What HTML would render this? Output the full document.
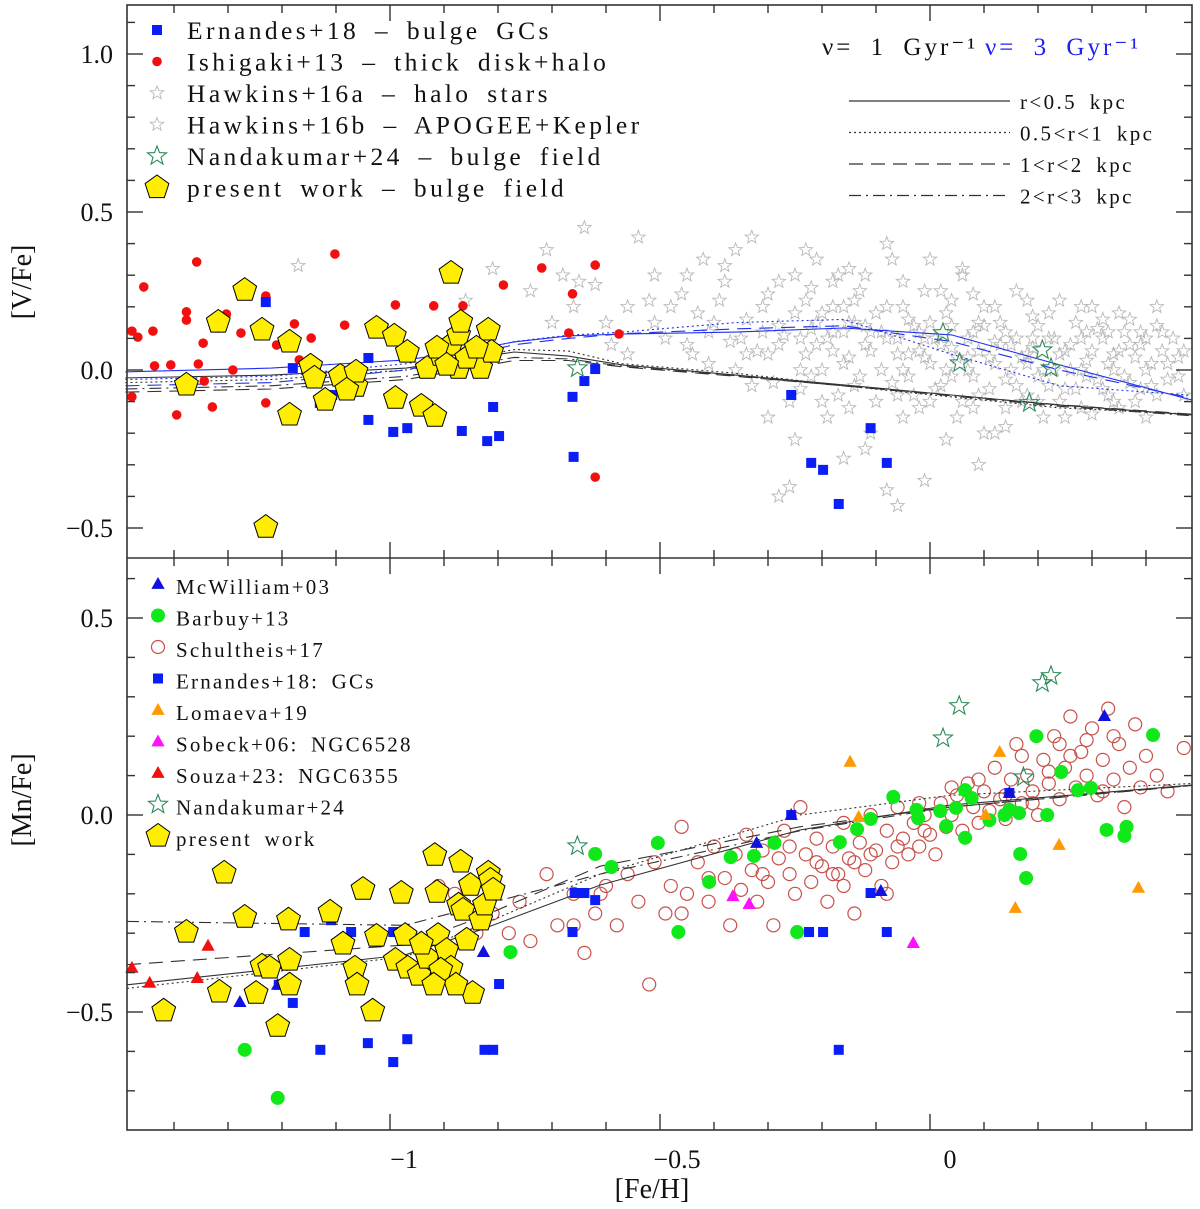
<!DOCTYPE html>
<html><head><meta charset="utf-8"><style>
html,body{margin:0;padding:0;background:#fff;}
svg{display:block;font-family:"Liberation Serif",serif;}
</style></head><body>
<svg id="chart" width="1200" height="1209" viewBox="0 0 1200 1209" xmlns="http://www.w3.org/2000/svg"></svg>
<script>
// ---------- data ----------
const xTicksMajor=[-1,-0.5,0];
const xTickLabels=["\u22121","\u22120.5","0"];
const vTicks=[1.0,0.5,0.0,-0.5];
const vTickLabels=["1.0","0.5","0.0","\u22120.5"];
const mnTicks=[0.5,0.0,-0.5];
const mnTickLabels=["0.5","0.0","\u22120.5"];

const ernV=[[-1.23,0.215],[-1.18,0.006],[-1.155,0],[-1.13,-0.104],[-1.107,-0.079],[-1.085,-0.006],[-1.04,0.038],[-1.04,-0.158],[-0.994,-0.196],[-0.968,-0.184],[-0.867,-0.193],[-0.82,-0.225],[-0.798,-0.209],[-0.809,-0.117],[-0.662,-0.085],[-0.66,-0.275],[-0.64,-0.035],[-0.62,0.003],[-0.257,-0.079],[-0.22,-0.294],[-0.198,-0.316],[-0.169,-0.424],[-0.11,-0.184],[-0.08,-0.294]];
const ishV=[[-1.478,0.123],[-1.467,0.104],[-1.456,0.263],[-1.439,0.123],[-1.436,0.013],[-1.406,0.016],[-1.395,-0.142],[-1.377,0.184],[-1.377,0.158],[-1.358,0.342],[-1.355,0.019],[-1.344,-0.035],[-1.346,0.085],[-1.329,-0.117],[-1.318,0.133],[-1.303,0.177],[-1.291,0],[-1.276,0.117],[-1.23,0.234],[-1.23,-0.104],[-1.21,0.079],[-1.177,0.146],[-1.168,0.032],[-1.146,0.101],[-1.133,-0.032],[-1.102,0.367],[-1.084,0.142],[-0.99,0.206],[-0.919,0.203],[-0.865,0.203],[-0.79,0.269],[-0.719,0.323],[-0.662,0.241],[-0.669,0.117],[-0.62,0.332],[-0.62,-0.339],[-0.576,0.114],[-1.478,-0.085]];
const hawV=[[-0.74,0.25],[-0.71,0.38],[-0.68,0.3],[-0.66,0.2],[-0.64,0.45],[-0.62,0.27],[-0.59,0.08],[-0.56,0.2],[-0.54,0.42],[-0.51,0.3],[-0.49,0.1],[-0.46,0.24],[-0.44,0.05],[-0.42,0.35],[-0.4,0.15],[-0.38,0.28],[-0.36,0.0],[-0.35,0.1],[-0.33,0.42],[-0.31,0.2],[-0.3,0.05],[-0.28,0.14],[-0.26,-0.1],[-0.25,0.3],[-0.24,0.1],[-0.23,0.22],[-0.22,-0.02],[-0.21,0.08],[-0.2,0.18],[-0.19,-0.15],[-0.18,0.12],[-0.17,0.3],[-0.16,0.02],[-0.15,0.15],[-0.14,-0.05],[-0.13,0.25],[-0.12,0.08],[-0.11,-0.2],[-0.1,0.18],[-0.09,0.0],[-0.08,0.1],[-0.07,0.35],[-0.06,-0.08],[-0.05,0.2],[-0.04,0.05],[-0.03,0.14],[-0.02,-0.12],[-0.01,0.25],[0.0,0.02],[0.01,0.1],[0.02,-0.05],[0.03,0.18],[0.04,0.07],[0.05,-0.15],[0.06,0.3],[0.07,0.0],[0.08,0.12],[0.09,-0.08],[0.1,0.2],[0.11,0.04],[0.12,-0.2],[0.13,0.15],[0.14,-0.03],[0.15,0.08],[0.16,0.25],[0.17,-0.1],[0.18,0.05],[0.19,0.17],[0.2,-0.02],[0.21,-0.15],[0.22,0.1],[0.23,0.0],[0.24,0.22],[0.25,-0.06],[0.26,0.08],[0.27,0.15],[0.28,-0.12],[0.29,0.03],[0.3,0.2],[0.31,-0.03],[0.32,0.1],[0.33,-0.08],[0.34,0.05],[0.35,0.18],[0.36,-0.02],[0.37,0.08],[0.38,-0.1],[0.39,0.12],[0.4,0.0],[0.41,-0.05],[0.42,0.2],[0.43,0.06],[0.44,-0.03],[0.46,0.04],[0.47,-0.08],[-0.26,-0.37],[-0.28,-0.4],[-0.08,-0.38],[-0.06,-0.43],[0.09,-0.3],[-0.01,-0.35],[-0.16,-0.28],[-0.21,0.35],[-0.08,0.4],[-0.36,0.38],[-0.81,0.32],[-1.17,0.33],[-0.86,0.22],[-0.16,0.2],[-0.11,0.12],[-0.01,0.1],[0.09,0.15],[0.19,0.1],[-0.31,0.12],[-0.41,0.12],[-0.21,0.15],[-0.06,0.05],[0.04,-0.02],[0.14,0.12],[0.24,0.05],[0.34,-0.1],[0.29,0.12],[0.39,0.08],[0.04,0.22],[-0.14,0.15],[-0.04,-0.02],[0.16,-0.05],[-0.24,0.0],[-0.34,0.05],[-0.51,0.15],[-0.56,0.05],[-0.02,0.06],[0.07,0.04],[0.18,0.02],[0.28,0.0],[-0.18,0.06],[-0.28,0.08],[0.12,0.09],[0.33,0.02],
[-0.45,0.08],[-0.43,0.18],[-0.41,0.02],[-0.39,0.22],[-0.37,0.09],[-0.34,0.16],[-0.32,0.06],[-0.3,0.24],[-0.29,-0.04],[-0.27,0.11],[-0.25,0.18],[-0.24,-0.06],[-0.23,0.05],[-0.22,0.13],[-0.2,0.0],[-0.19,0.1],[-0.18,0.2],[-0.17,-0.08],[-0.16,0.12],[-0.15,0.04],[-0.14,0.22],[-0.13,-0.02],[-0.12,0.14],[-0.11,0.06],[-0.1,-0.1],[-0.09,0.12],[-0.08,0.2],[-0.07,-0.04],[-0.06,0.1],[-0.05,0.0],[-0.04,0.16],[-0.03,-0.08],[-0.02,0.12],[-0.01,0.04],[0.0,0.15],[0.01,-0.06],[0.02,0.08],[0.03,0.0],[0.04,0.14],[0.05,0.04],[0.06,-0.1],[0.07,0.1],[0.08,-0.02],[0.09,0.06],[0.1,0.14],[0.11,-0.06],[0.12,0.02],[0.13,0.08],[0.14,-0.12],[0.15,0.0],[0.16,0.1],[0.17,0.04],[0.18,-0.08],[0.19,0.07],[0.2,0.14],[0.21,0.0],[0.22,-0.05],[0.23,0.1],[0.24,-0.1],[0.25,0.06],[0.26,0.0],[0.27,-0.06],[0.28,0.1],[0.29,-0.02],[0.3,0.06],[0.31,0.13],[0.32,-0.06],[0.33,0.12],[0.34,0.0],[0.35,0.06],[0.36,0.12],[0.37,-0.04],[0.38,0.04],[0.39,-0.06],[0.4,0.1],[0.41,0.02],[0.42,-0.08],[0.43,0.12],[0.44,0.02],[0.45,0.1],[0.46,-0.02],[0.47,0.06],[-0.33,-0.05],[-0.3,-0.15],[-0.25,-0.22],[-0.2,-0.1],[-0.15,-0.12],[-0.12,-0.25],[-0.05,-0.15],[0.0,-0.1],[0.03,-0.22],[0.08,-0.12],[0.1,-0.2],[0.14,-0.18],[0.2,-0.1],[0.25,-0.15],[0.3,-0.14],[0.35,-0.12],[0.4,-0.15],[-0.28,0.28],[-0.22,0.26],[-0.18,0.28],[-0.12,0.3],[-0.05,0.28],[0.02,0.25],[0.08,0.24],[0.12,0.2],[0.18,0.22],[0.22,0.18],[0.28,0.2],[0.32,0.16],[0.37,0.16],[0.42,0.14],[-0.48,0.2],[-0.52,0.22],[-0.6,0.15],[-0.65,0.28],[-0.7,0.15],[-0.45,0.3],[-0.38,0.33],[-0.23,0.38],[-0.15,0.32],[0.0,0.35],[0.06,0.32]];
const nanV=[[-0.653,0.006],[0.024,0.117],[0.055,0.022],[0.184,-0.104],[0.208,0.063],[0.224,0.006]];
const pwV=[[-1.377,-0.047],[-1.318,0.152],[-1.269,0.253],[-1.237,0.127],[-1.23,-0.497],[-1.186,0.089],[-1.186,-0.142],[-1.147,0.013],[-1.092,-0.019],[-1.063,-0.051],[-1.063,-0.006],[-1.025,0.133],[-0.992,0.108],[-0.968,0.057],[-0.99,-0.089],[-0.942,-0.114],[-0.917,-0.146],[-0.887,0.307],[-0.931,0.006],[-0.906,0.047],[-0.887,0.079],[-0.873,0.111],[-0.869,0.152],[-0.851,0.047],[-0.832,0.006],[-0.818,0.127],[-0.812,0.057],[-0.873,0.006],[-0.858,0.038],[-0.913,0.07],[-0.895,0.016],[-0.84,0.07],[-1.14,-0.025],[-1.08,-0.063],[-1.12,-0.095]];

const modelFeV=[-1.49,-1.22,-0.97,-0.87,-0.77,-0.67,-0.57,-0.36,-0.16,0.04,0.24,0.485];
const v1Solid=[-0.025,-0.016,0.006,0.032,0.057,0.044,0.016,-0.016,-0.047,-0.079,-0.111,-0.142];
const v1Dot=[-0.04,-0.03,0.0,0.03,0.065,0.06,0.02,-0.01,-0.05,-0.085,-0.12,-0.14];
const v1Dash=[-0.07,-0.06,-0.03,0.0,0.03,0.03,0.01,-0.02,-0.05,-0.08,-0.11,-0.14];
const v1DashDot=[-0.06,-0.05,-0.02,0.01,0.04,0.035,0.012,-0.018,-0.05,-0.082,-0.115,-0.145];
const v3Solid=[-0.006,0.006,0.032,0.057,0.089,0.108,0.114,0.12,0.133,0.111,0.016,-0.095];
const v3Dot=[-0.03,-0.02,0.02,0.05,0.09,0.11,0.12,0.15,0.16,0.05,-0.05,-0.08];
const v3Dash=[-0.05,-0.04,0.0,0.04,0.08,0.1,0.115,0.13,0.14,0.09,0.0,-0.09];

const mcwMn=[[-1.278,-0.475],[-1.208,-0.431],[-0.827,-0.348],[-0.321,-0.071],[-0.257,0],[-0.091,-0.193],[0.147,0.056],[0.323,0.251]];
const barMn=[[-1.269,-0.596],[-1.208,-0.718],[-0.777,-0.348],[-0.62,-0.099],[-0.59,-0.132],[-0.504,-0.071],[-0.466,-0.297],[-0.409,-0.17],[-0.369,-0.107],[-0.326,-0.104],[-0.288,-0.071],[-0.246,-0.297],[-0.167,-0.069],[-0.135,-0.036],[-0.11,-0.01],[-0.022,-0.008],[0.019,0.01],[0.03,-0.028],[0.048,0.018],[0.065,-0.058],[0.065,0.063],[0.077,0.043],[0.11,-0.013],[0.138,0],[0.147,0.013],[0.165,0.005],[0.167,-0.099],[0.178,-0.16],[0.197,0.2],[0.217,0],[0.243,0.109],[0.274,0.063],[0.298,0.069],[0.327,-0.038],[0.36,-0.053],[0.364,-0.03],[0.413,0.203],[-0.068,0.046],[-0.025,0.013]];
const schMn=[[-0.91,-0.18],[-0.88,-0.2],[-0.84,-0.3],[-0.81,-0.25],[-0.78,-0.3],[-0.76,-0.22],[-0.74,-0.32],[-0.71,-0.15],[-0.69,-0.28],[-0.66,-0.2],[-0.64,-0.35],[-0.62,-0.25],[-0.6,-0.18],[-0.58,-0.28],[-0.56,-0.15],[-0.54,-0.22],[-0.52,-0.43],[-0.51,-0.12],[-0.49,-0.25],[-0.48,-0.18],[-0.46,-0.03],[-0.45,-0.2],[-0.43,-0.12],[-0.41,-0.22],[-0.4,-0.08],[-0.38,-0.16],[-0.37,-0.28],[-0.36,-0.1],[-0.35,-0.19],[-0.34,-0.05],[-0.33,-0.14],[-0.32,-0.22],[-0.31,-0.09],[-0.3,-0.17],[-0.29,-0.28],[-0.28,-0.11],[-0.27,-0.04],[-0.26,-0.15],[-0.25,-0.2],[-0.24,0.02],[-0.23,-0.1],[-0.22,-0.17],[-0.21,-0.06],[-0.2,-0.13],[-0.19,-0.22],[-0.18,-0.08],[-0.17,-0.15],[-0.16,-0.02],[-0.15,-0.11],[-0.14,-0.25],[-0.13,-0.07],[-0.12,-0.14],[-0.11,0.0],[-0.1,-0.09],[-0.09,-0.18],[-0.08,-0.04],[-0.07,-0.12],[-0.06,0.02],[-0.05,-0.06],[-0.04,-0.1],[-0.03,-0.02],[-0.02,-0.08],[-0.01,0.0],[0.0,-0.05],[0.01,-0.1],[0.02,0.03],[0.03,-0.03],[0.04,0.0],[0.05,0.05],[0.06,-0.04],[0.07,0.08],[0.08,0.02],[0.09,-0.02],[0.1,0.06],[0.11,0.01],[0.12,0.12],[0.13,0.04],[0.14,-0.01],[0.15,0.09],[0.16,0.18],[0.17,0.03],[0.18,0.1],[0.19,0.06],[0.2,0.0],[0.21,0.14],[0.22,0.08],[0.23,0.2],[0.24,0.04],[0.25,0.12],[0.26,0.25],[0.27,0.07],[0.28,0.16],[0.29,0.1],[0.3,0.22],[0.31,0.05],[0.32,0.14],[0.33,0.27],[0.34,0.09],[0.35,0.18],[0.36,0.02],[0.37,0.12],[0.38,0.23],[0.39,0.07],[0.4,0.15],[0.42,0.1],[0.44,0.06],[0.47,0.17],[0.24,0.18],[0.26,0.15],[0.29,0.19],[0.22,0.11],[0.19,0.03],[0.32,0.06],[0.34,0.2],[-0.18,-0.15],[-0.21,-0.12],[-0.26,-0.08],[-0.31,-0.15],[-0.11,-0.1],[-0.06,-0.08],[-0.08,-0.2],[-0.01,-0.04],[0.09,0.09],[-0.41,-0.16],[-0.46,-0.25],[-0.61,-0.2],[-0.66,-0.28],[-0.86,-0.25],[-0.81,-0.18],[-0.16,-0.18],[-0.14,-0.12],[-0.02,0.03],[0.04,0.07],[0.14,0.05],[0.17,0.15]];
const ernMn=[[-1.158,-0.297],[-1.129,-0.596],[-1.109,-0.267],[-1.072,-0.297],[-1.041,-0.579],[-0.994,-0.627],[-0.994,-0.368],[-0.968,-0.569],[-0.994,-0.297],[-0.825,-0.596],[-0.809,-0.596],[-0.798,-0.429],[-0.662,-0.297],[-0.658,-0.198],[-0.64,-0.198],[-0.62,-0.216],[-0.257,0],[-0.224,-0.297],[-0.198,-0.297],[-0.169,-0.596],[-0.11,-0.198],[-0.08,-0.297],[0.147,0.056],[-1.206,-0.431],[-1.18,-0.477]];
const lomMn=[[-0.148,0.135],[0.129,0.16],[0.158,-0.236],[0.239,-0.076],[0.386,-0.185],[0.103,0],[-0.132,-0.005]];
const sobMn=[[-0.365,-0.206],[-0.335,-0.226],[-0.031,-0.325]];
const souMn=[[-1.478,-0.388],[-1.445,-0.426],[-1.357,-0.414],[-1.337,-0.332]];
const nanMn=[[-0.653,-0.079],[0.024,0.195],[0.054,0.277],[0.208,0.335],[0.224,0.353],[0.173,0.096]];
const pwMn=[[-1.307,-0.147],[-1.269,-0.259],[-1.377,-0.297],[-1.419,-0.497],[-1.316,-0.449],[-1.248,-0.452],[-1.237,-0.383],[-1.223,-0.388],[-1.208,-0.536],[-1.188,-0.266],[-1.186,-0.368],[-1.186,-0.431],[-1.111,-0.246],[-1.087,-0.327],[-1.065,-0.388],[-1.061,-0.431],[-1.05,-0.188],[-1.032,-0.497],[-1.025,-0.307],[-0.979,-0.198],[-0.972,-0.305],[-0.99,-0.368],[-0.967,-0.388],[-0.946,-0.406],[-0.931,-0.363],[-0.917,-0.102],[-0.913,-0.196],[-0.911,-0.305],[-0.895,-0.343],[-0.887,-0.388],[-0.873,-0.228],[-0.869,-0.119],[-0.865,-0.241],[-0.858,-0.317],[-0.851,-0.178],[-0.832,-0.266],[-0.825,-0.228],[-0.818,-0.147],[-0.814,-0.165],[-0.809,-0.19],[-0.847,-0.452],[-0.942,-0.327],[-0.906,-0.393],[-0.878,-0.431],[-0.919,-0.431]];

const modelFeMn=[-1.487,-0.972,-0.833,-0.611,-0.241,0.037,0.485];
const mnSolid=[-0.431,-0.355,-0.292,-0.178,-0.038,0.025,0.076];
const mnDot=[-0.44,-0.36,-0.28,-0.15,0.0,0.05,0.08];
const mnDash=[-0.38,-0.33,-0.26,-0.13,-0.03,0.02,0.075];
const mnDashDot=[-0.27,-0.28,-0.23,-0.15,-0.04,0.02,0.075];

// ---------- layout ----------
const L=127,R=1192,T=5,MID=558,B=1130;
const X=f=>930+540*f;
const YV=v=>370-316*v;
const YM=m=>815-394*m;
const NS="http://www.w3.org/2000/svg";
const svg=document.getElementById('chart');
function el(tag,attrs,parent){const e=document.createElementNS(NS,tag);for(const k in attrs)e.setAttribute(k,attrs[k]);(parent||svg).appendChild(e);return e;}
function grp(name){const g=document.createElementNS(NS,'g');svg.appendChild(g);return g;}

function starPts(cx,cy,r){let p=[];for(let i=0;i<10;i++){const a=-Math.PI/2+i*Math.PI/5;const rr=i%2?r*0.42:r;p.push((cx+rr*Math.cos(a)).toFixed(1)+','+(cy+rr*Math.sin(a)).toFixed(1));}return p.join(' ');}
function pentPts(cx,cy,r){let p=[];for(let i=0;i<5;i++){const a=-Math.PI/2+i*2*Math.PI/5;p.push((cx+r*Math.cos(a)).toFixed(1)+','+(cy+r*Math.sin(a)).toFixed(1));}return p.join(' ');}
function triPts(cx,cy,r){return [cx+','+(cy-r),(cx+r*0.95)+','+(cy+r*0.7),(cx-r*0.95)+','+(cy+r*0.7)].join(' ');}

function marker(kind,cx,cy,g){
  let e;
  if(kind==='sq'){e=el('rect',{x:cx-5,y:cy-5,width:10,height:10,fill:'#0a1ef5'},g);}
  else if(kind==='red'){e=el('circle',{cx:cx,cy:cy,r:4.8,fill:'#f01010'},g);}
  else if(kind==='green'){e=el('circle',{cx:cx,cy:cy,r:7,fill:'#10e81a'},g);}
  else if(kind==='sch'){e=el('circle',{cx:cx,cy:cy,r:6.5,fill:'none',stroke:'#c8504a','stroke-width':1.2},g);}
  else if(kind==='hstar'){e=el('polygon',{points:starPts(cx,cy,7),fill:'none',stroke:'#b8b8b8','stroke-width':0.9},g);}
  else if(kind==='nstar'){e=el('polygon',{points:starPts(cx,cy,10),fill:'none',stroke:'#2e8b57','stroke-width':1.1},g);}
  else if(kind==='pent'){e=el('polygon',{points:pentPts(cx,cy,12.5),fill:'#ffee00',stroke:'#000','stroke-width':1},g);}
  else {const col={mcw:'#1010e0',lom:'#ff9900',sob:'#ff10ff',sou:'#f01010'}[kind];e=el('polygon',{points:triPts(cx,cy,7),fill:col},g);}
  return e;
}
function scatter(data,kind,Y,name){
  const g=grp(name);
  data.forEach(d=>{const e=marker(kind,X(d[0]),Y(d[1]),g);
    
    });
}
function line(xs,ys,Y,color,dash,name){
  let d='';xs.forEach((x,i)=>{d+=(i?'L':'M')+X(x).toFixed(1)+','+Y(ys[i]).toFixed(1);});
  const p=el('path',{d:d,fill:'none',stroke:color,'stroke-width':1.1,'stroke-dasharray':dash});
  
  
}
const DOT='2,3',DASH='14,8',DD='12,5,2,5';

// top panel
scatter(hawV,'hstar',YV,'hawkins16-stars');
line(modelFeV,v1Solid,YV,'#333','', 'model-v1-r05');
line(modelFeV,v1Dot,YV,'#333',DOT,'model-v1-r1');
line(modelFeV,v1Dash,YV,'#333',DASH,'model-v1-r2');
line(modelFeV,v1DashDot,YV,'#333',DD,'model-v1-r3');
line(modelFeV,v3Solid,YV,'#2030f0','','model-v3-r05');
line(modelFeV,v3Dot,YV,'#2030f0',DOT,'model-v3-r1');
line(modelFeV,v3Dash,YV,'#2030f0',DASH,'model-v3-r2');
scatter(ishV,'red',YV,'ishigaki13-points');
scatter(ernV,'sq',YV,'ernandes18-points-v');
scatter(nanV,'nstar',YV,'nandakumar24-points-v');
scatter(pwV,'pent',YV,'present-work-points-v');

// bottom panel
scatter(schMn,'sch',YM,'schultheis17-points');
line(modelFeMn,mnSolid,YM,'#333','','model-mn-r05');
line(modelFeMn,mnDot,YM,'#333',DOT,'model-mn-r1');
line(modelFeMn,mnDash,YM,'#333',DASH,'model-mn-r2');
line(modelFeMn,mnDashDot,YM,'#333',DD,'model-mn-r3');
scatter(barMn,'green',YM,'barbuy13-points');
scatter(ernMn,'sq',YM,'ernandes18-points-mn');
scatter(mcwMn,'mcw',YM,'mcwilliam03-points');
scatter(lomMn,'lom',YM,'lomaeva19-points');
scatter(sobMn,'sob',YM,'sobeck06-points');
scatter(souMn,'sou',YM,'souza23-points');
scatter(nanMn,'nstar',YM,'nandakumar24-points-mn');
scatter(pwMn,'pent',YM,'present-work-points-mn');

// frames and ticks
const ax=grp('axes');
el('rect',{x:L,y:T,width:R-L,height:B-T,fill:'none',stroke:'#333','stroke-width':1.6},ax);
el('line',{x1:L,y1:MID,x2:R,y2:MID,stroke:'#333','stroke-width':1.6},ax);
function tk(x1,y1,x2,y2){el('line',{x1:x1,y1:y1,x2:x2,y2:y2,stroke:'#333','stroke-width':1.4},ax);}
for(let i=-15;i<=4;i++){const f=i/10,x=X(f);if(x<L||x>R)continue;const maj=(i%5===0);const l=maj?16:8;
  [T,MID].forEach(y=>tk(x,y,x,y+l));[MID,B].forEach(y=>tk(x,y,x,y-l));}
for(let i=-5;i<=11;i++){const v=i/10,y=YV(v);if(y<T||y>MID)continue;const l=(i%5===0)?16:8;tk(L,y,L+l,y);tk(R,y,R-l,y);}
for(let i=-8;i<=6;i++){const m=i/10,y=YM(m);if(y<=MID||y>B)continue;const l=(i%5===0)?16:8;tk(L,y,L+l,y);tk(R,y,R-l,y);}

function txt(x,y,s,attrs,name){const t=el('text',Object.assign({x:x,y:y},attrs));t.textContent=s;return t;}
const xLabOff=[14,17,20];
xTicksMajor.forEach((f,i)=>txt(X(f)+xLabOff[i],1168,xTickLabels[i],{'font-size':26,'text-anchor':'middle',fill:'#111'},'x-tick-label'));
vTicks.forEach((v,i)=>txt(113,YV(v)+9,vTickLabels[i],{'font-size':26,'text-anchor':'end',fill:'#111'},'v-tick-label'));
mnTicks.forEach((m,i)=>txt(113,YM(m)+9,mnTickLabels[i],{'font-size':26,'text-anchor':'end',fill:'#111'},'mn-tick-label'));
txt(652,1198,'[Fe/H]',{'font-size':28,'text-anchor':'middle',fill:'#111'},'x-axis-title');
txt(0,0,'[V/Fe]',{'font-size':28,'text-anchor':'middle',fill:'#111',transform:'translate(31,282) rotate(-90)'},'v-axis-title');
txt(0,0,'[Mn/Fe]',{'font-size':28,'text-anchor':'middle',fill:'#111',transform:'translate(31,800) rotate(-90)'},'mn-axis-title');

// top legend
const lt=grp('legend-top');
const topLeg=[['sq','Ernandes+18 \u2013 bulge GCs'],['red','Ishigaki+13 \u2013 thick disk+halo'],['hstar','Hawkins+16a \u2013 halo stars'],['hstar','Hawkins+16b \u2013 APOGEE+Kepler'],['nstar','Nandakumar+24 \u2013 bulge field'],['pent','present work \u2013 bulge field']];
topLeg.forEach((r,i)=>{const y=30+i*31.5;const m=marker(r[0],157,y,lt);
  
  
  txt(187,y+9,r[1],{'font-size':25.5,fill:'#111','letter-spacing':'3.4','word-spacing':'6'},'legend-entry');});
txt(822,55,'\u03bd= 1 Gyr\u207b\u00b9',{'font-size':25,fill:'#111','letter-spacing':'3','word-spacing':'8'},'legend-nu1');
txt(985,55,'\u03bd= 3 Gyr\u207b\u00b9',{'font-size':25,fill:'#2020f0','letter-spacing':'3','word-spacing':'8'},'legend-nu3');
const lineLeg=[['','r<0.5 kpc'],[DOT,'0.5<r<1 kpc'],[DASH,'1<r<2 kpc'],[DD,'2<r<3 kpc']];
lineLeg.forEach((r,i)=>{const y=101+i*31.5;const p=el('line',{x1:849,y1:y,x2:1010,y2:y,stroke:'#333','stroke-width':1.2,'stroke-dasharray':r[0]},lt);
  
  
  txt(1020,y+8,r[1],{'font-size':21,fill:'#111','letter-spacing':'2.4','word-spacing':'5'},'legend-line-label');});

// bottom legend
const lb=grp('legend-bottom');
const botLeg=[['mcw','McWilliam+03'],['green','Barbuy+13'],['sch','Schultheis+17'],['sq','Ernandes+18: GCs'],['lom','Lomaeva+19'],['sob','Sobeck+06: NGC6528'],['sou','Souza+23: NGC6355'],['nstar','Nandakumar+24'],['pent','present work']];
botLeg.forEach((r,i)=>{const y=587+i*31.5;const m=marker(r[0],158,y-3,lb);
  
  
  txt(176,y+7,r[1],{'font-size':21,fill:'#111','letter-spacing':'2.2','word-spacing':'5'},'legend-entry');});
</script>
</body></html>
